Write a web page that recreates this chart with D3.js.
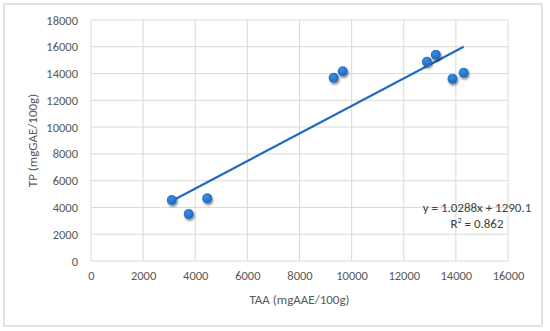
<!DOCTYPE html>
<html><head><meta charset="utf-8">
<script src="https://cdn.jsdelivr.net/npm/d3@7/dist/d3.min.js"></script>
<style>body{margin:0;background:#fff}svg{display:block}</style>
</head><body>
<svg id="c" width="550" height="331"></svg>
<script>
const taa = [3100, 3750, 4460, 9310, 9660, 12890, 13230, 13870, 14300];
const tp  = [4560, 3510, 4680, 13690, 14170, 14880, 15400, 13620, 14060];
const xTicks = [0, 2000, 4000, 6000, 8000, 10000, 12000, 14000, 16000];
const yTicks = [0, 2000, 4000, 6000, 8000, 10000, 12000, 14000, 16000, 18000];
const slope = 1.0288, intercept = 1290.1;
const eqLabel = "y = 1.0288x + 1290.1";
const r2Value = "0.862";
const xTitle = "TAA (mgAAE/100g)";
const yTitle = "TP (mgGAE/100g)";

const svg = d3.select("#c");
const font = "Carlito, Lato, 'Open Sans', sans-serif";
const x = d3.scaleLinear().domain([0, 16000]).range([91, 508]);
const y = d3.scaleLinear().domain([0, 18000]).range([261, 20]);

svg.append("rect").attr("x", 4).attr("y", 4).attr("width", 538).attr("height", 322)
  .attr("fill", "#fff").attr("stroke", "#d9d9d9").attr("stroke-width", 1.5);

const defs = svg.append("defs");
const f = defs.append("filter").attr("id", "sh").attr("x", "-50%").attr("y", "-50%").attr("width", "200%").attr("height", "200%");
f.append("feGaussianBlur").attr("in", "SourceAlpha").attr("stdDeviation", 1.2);
f.append("feOffset").attr("dx", 1).attr("dy", 1.5).attr("result", "o");
f.append("feComponentTransfer").append("feFuncA").attr("type", "linear").attr("slope", 0.45);
const m = f.append("feMerge"); m.append("feMergeNode"); m.append("feMergeNode").attr("in", "SourceGraphic");
const g = defs.append("radialGradient").attr("id", "pg").attr("cx", "40%").attr("cy", "35%").attr("r", "65%");
g.append("stop").attr("offset", "0%").attr("stop-color", "#3d8be0");
g.append("stop").attr("offset", "100%").attr("stop-color", "#1d68bd");

// gridlines
const grid = svg.append("g").attr("stroke", "#d9d9d9").attr("stroke-width", 1);
xTicks.forEach(t => grid.append("line").attr("x1", x(t)).attr("x2", x(t)).attr("y1", y(0)).attr("y2", y(18000)));
yTicks.forEach(t => grid.append("line").attr("x1", x(0)).attr("x2", x(16000)).attr("y1", y(t)).attr("y2", y(t)));

// axes (labels only)
const xa = svg.append("g").attr("transform", `translate(0,${y(0)})`)
  .call(d3.axisBottom(x).tickValues(xTicks).tickFormat(d3.format("d")).tickSize(0).tickPadding(10));
const ya = svg.append("g").attr("transform", `translate(${x(0)},0)`)
  .call(d3.axisLeft(y).tickValues(yTicks).tickFormat(d3.format("d")).tickSize(0).tickPadding(13));
[xa, ya].forEach(a => {
  a.select(".domain").remove();
  a.selectAll("text").attr("fill", "#595959").attr("font-family", font).attr("font-size", 12.5);
});

// trendline
svg.append("line")
  .attr("x1", x(d3.min(taa))).attr("y1", y(slope * d3.min(taa) + intercept))
  .attr("x2", x(d3.max(taa))).attr("y2", y(slope * d3.max(taa) + intercept))
  .attr("stroke", "#1f6cbf").attr("stroke-width", 2.2);

// points
svg.append("g").selectAll("circle").data(taa.map((v, i) => [v, tp[i]])).join("circle")
  .attr("cx", d => x(d[0])).attr("cy", d => y(d[1])).attr("r", 5)
  .attr("fill", "url(#pg)").attr("filter", "url(#sh)");

// titles
svg.append("text").attr("x", (x(0) + x(16000)) / 2).attr("y", 304).attr("text-anchor", "middle")
  .attr("fill", "#595959").attr("font-family", font).attr("font-size", 13).text(xTitle);
svg.append("text").attr("transform", `translate(37,${(y(0) + y(18000)) / 2}) rotate(-90)`).attr("text-anchor", "middle")
  .attr("fill", "#595959").attr("font-family", font).attr("font-size", 13).text(yTitle);

// equation
const eq = svg.append("g").attr("fill", "#404040").attr("font-family", font).attr("font-size", 13).attr("text-anchor", "middle");
eq.append("text").attr("x", 477).attr("y", 212).text(eqLabel);
const r = eq.append("text").attr("x", 477).attr("y", 228);
r.append("tspan").text("R");
r.append("tspan").attr("font-size", 8).attr("dy", -5).text("2");
r.append("tspan").attr("dy", 5).text(" = " + r2Value);
</script>
</body></html>
